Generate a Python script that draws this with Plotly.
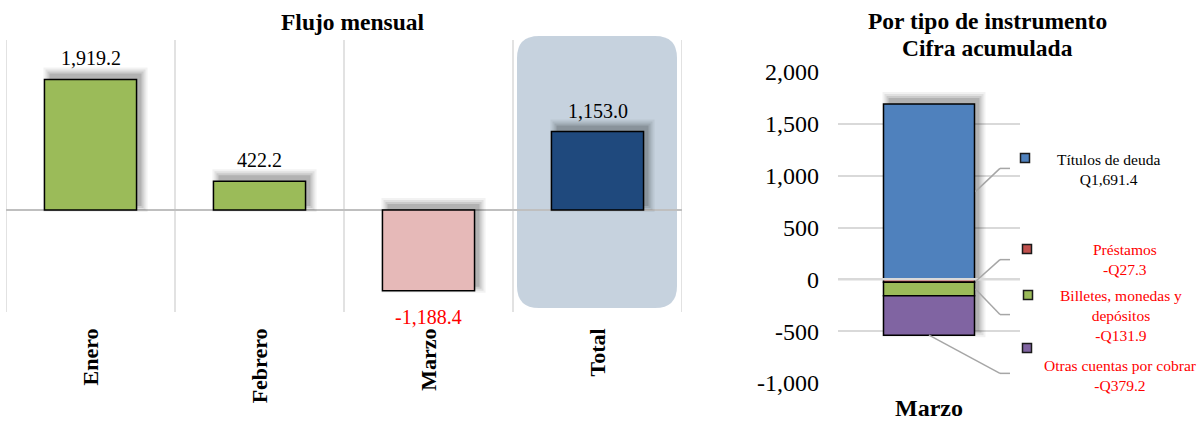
import plotly.graph_objects as go

W, H = 1204, 421
FONT = "Liberation Serif"

# ---------------- data ----------------
months = ["Enero", "Febrero", "Marzo", "Total"]
flujo = [1919.2, 422.2, -1188.4, 1153.0]
flujo_labels = ["1,919.2", "422.2", "-1,188.4", "1,153.0"]
flujo_colors = ["#9bbb59", "#9bbb59", "#e6b9b8", "#1f497d"]
flujo_label_colors = ["black", "black", "red", "black"]

acum_cat = ["Marzo"]
instrumentos = ["Títulos de deuda", "Préstamos", "Billetes, monedas y<br>depósitos",
                "Otras cuentas por cobrar"]
inst_values = [1691.4, -27.3, -131.9, -379.2]
inst_labels = ["Q1,691.4", "-Q27.3", "-Q131.9", "-Q379.2"]
inst_colors = ["#4f81bd", "#c0504d", "#9bbb59", "#8064a2"]
inst_text_colors = ["black", "red", "red", "red"]

y2_tickvals = [-1000, -500, 0, 500, 1000, 1500, 2000]
y2_ticktext = ["-1,000", "-500", "0", "500", "1,000", "1,500", "2,000"]


def pxx(x):
    return x / W


def pxy(y):
    return 1 - y / H


# ---------------- layout geometry ----------------
L_X = (6, 682)
L_Y = (40, 312)      # top, bottom in pixels
L_RANGE = (-1500, 2500)
R_X = (838, 1020)
R_Y = (72, 383)
R_RANGE = (-1000, 2000)
L_BW = 0.545
R_BW = 0.5

l_ypx = (L_Y[1] - L_Y[0]) / (L_RANGE[1] - L_RANGE[0])   # px per unit
l_xpx = (L_X[1] - L_X[0]) / len(months)                # px per category
r_ypx = (R_Y[1] - R_Y[0]) / (R_RANGE[1] - R_RANGE[0])
r_xpx = (R_X[1] - R_X[0]) / len(acum_cat)

fig = go.Figure()
shapes = []
annotations = []

# Total highlight (rounded rect)
x0, x1, y0, y1, r = pxx(517), pxx(677), pxy(308), pxy(36), 22
rx, ry = r / W, r / H
path = (f"M {x0+rx},{y0} L {x1-rx},{y0} Q {x1},{y0} {x1},{y0+ry} "
        f"L {x1},{y1-ry} Q {x1},{y1} {x1-rx},{y1} L {x0+rx},{y1} "
        f"Q {x0},{y1} {x0},{y1-ry} L {x0},{y0+ry} Q {x0},{y0} {x0+rx},{y0} Z")
shapes.append(dict(type="path", path=path, xref="paper", yref="paper",
                   fillcolor="#c6d2de", line=dict(width=0), layer="below"))

# vertical separators on left chart
for i in range(len(months) + 1):
    shapes.append(dict(type="line", xref="x", yref="y domain", x0=i - 0.5, x1=i - 0.5,
                       y0=0, y1=1, line=dict(color="#d9d9d9", width=1.5), layer="below"))


def add_shadow(xref, yref, xc, bw, lo, hi, xpx, ypx):
    dx, dy = 4, 5
    for e, op in [(7, 0.05), (5, 0.07), (3, 0.09), (1, 0.12)]:
        shapes.append(dict(type="rect", xref=xref, yref=yref,
                           x0=xc - bw / 2 + (dx - e + 2) / xpx, x1=xc + bw / 2 + (dx + e) / xpx,
                           y0=lo + (dy - e) / ypx, y1=hi + (dy + e) / ypx,
                           fillcolor=f"rgba(0,0,0,{op})", line=dict(width=0), layer="between"))


# left bars
for i, v in enumerate(flujo):
    add_shadow("x", "y", i, L_BW, min(0, v), max(0, v), l_xpx, l_ypx)

fig.add_trace(go.Bar(x=months, y=flujo, width=L_BW, marker=dict(color=flujo_colors,
                     line=dict(color="black", width=1.5)), xaxis="x", yaxis="y",
                     showlegend=False, hoverinfo="skip"))
for m, v, t, c in zip(months, flujo, flujo_labels, flujo_label_colors):
    annotations.append(dict(x=m, y=v, xref="x", yref="y", text=t, showarrow=False,
                            xanchor="center", yanchor="middle", yshift=21 if v >= 0 else -26,
                            font=dict(family=FONT, size=20, color=c)))

# right stacked bar
pos, neg = 0.0, 0.0
bases = []
for v in inst_values:
    if v >= 0:
        bases.append(pos)
        pos += v
    else:
        bases.append(neg)
        neg += v
add_shadow("x2", "y2", 0, R_BW, neg, pos, r_xpx, r_ypx)

for name, v, b, c in zip(instrumentos, inst_values, bases, inst_colors):
    fig.add_trace(go.Bar(x=acum_cat, y=[v], base=[b], width=R_BW, name=name,
                         marker=dict(color=c, line=dict(color="black", width=1.5)),
                         xaxis="x2", yaxis="y2", showlegend=False, hoverinfo="skip"))

# zero gridline drawn over the stack
shapes.append(dict(type="line", xref="x2 domain", yref="y2", x0=0, x1=1, y0=0, y1=0,
                   line=dict(color="#d9d9d9", width=2.5), layer="above"))

# leader lines (label y positions are layout positions)
leader_end_y = [1070, 190, -340, -907]
leader_start_x = [0.755, 0.76, 0.755, 0.5]
for i, (v, b) in enumerate(zip(inst_values, bases)):
    if i == len(inst_values) - 1:
        ys = b + v
    else:
        ys = b + v / 2
    ye = leader_end_y[i]
    shapes.append(dict(type="line", xref="x2 domain", yref="y2", x0=leader_start_x[i], x1=0.89,
                       y0=ys, y1=ye, line=dict(color="#a6a6a6", width=1.5)))
    shapes.append(dict(type="line", xref="x2 domain", yref="y2", x0=0.89, x1=0.945,
                       y0=ye, y1=ye, line=dict(color="#a6a6a6", width=1.5)))

# legend squares + text
leg_sq = [(1025, 158), (1027, 249), (1028, 295), (1027, 348)]
leg_txt = [(1108, 169), (1125, 259), (1121, 315), (1120, 375)]
for i in range(len(instrumentos)):
    sx, sy = leg_sq[i]
    shapes.append(dict(type="rect", xref="paper", yref="paper",
                       x0=pxx(sx - 4.5), x1=pxx(sx + 4.5), y0=pxy(sy + 4.5), y1=pxy(sy - 4.5),
                       fillcolor=inst_colors[i], line=dict(color="#1a1a1a", width=1.5)))
    tx, ty = leg_txt[i]
    annotations.append(dict(x=pxx(tx), y=pxy(ty), xref="paper", yref="paper",
                            text=f"{instrumentos[i]}<br>{inst_labels[i]}", showarrow=False,
                            align="center", xanchor="center", yanchor="middle",
                            font=dict(family=FONT, size=15.5, color=inst_text_colors[i])))

# titles
annotations.append(dict(x=pxx(352), y=pxy(22), xref="paper", yref="paper",
                        text="<b>Flujo mensual</b>", showarrow=False, xanchor="center",
                        yanchor="middle", font=dict(family=FONT, size=23.5, color="black")))
annotations.append(dict(x=pxx(987), y=pxy(21), xref="paper", yref="paper",
                        text="<b>Por tipo de instrumento</b>", showarrow=False, xanchor="center",
                        yanchor="middle", font=dict(family=FONT, size=23.5, color="black")))
annotations.append(dict(x=pxx(987), y=pxy(48), xref="paper", yref="paper",
                        text="<b>Cifra acumulada</b>", showarrow=False, xanchor="center",
                        yanchor="middle", font=dict(family=FONT, size=23.5, color="black")))

fig.update_layout(
    width=W, height=H, margin=dict(l=0, r=0, t=0, b=0, autoexpand=False),
    paper_bgcolor="white", plot_bgcolor="rgba(0,0,0,0)",
    barmode="overlay", showlegend=False,
    font=dict(family=FONT, color="black"),
    xaxis=dict(domain=[pxx(L_X[0]), pxx(L_X[1])], type="category", automargin=False,
               categoryorder="array", categoryarray=months, range=[-0.5, len(months) - 0.5],
               tickangle=-90, tickfont=dict(family=FONT, size=22, color="black"),
               showgrid=False, showline=False, ticks="", ticklabelstandoff=11,
               tickvals=months, ticktext=[f"<b>{m}</b>" for m in months]),
    yaxis=dict(domain=[pxy(L_Y[1]), pxy(L_Y[0])], range=list(L_RANGE), showgrid=False,
               showticklabels=False, zeroline=True, zerolinecolor="#bfbfbf", zerolinewidth=2,
               ticks="", automargin=False),
    xaxis2=dict(domain=[pxx(R_X[0]), pxx(R_X[1])], type="category", range=[-0.5, 0.5],
                anchor="y2", showgrid=False, showline=False, ticks="", automargin=False,
                tickvals=acum_cat, ticktext=[f"<b>{m}</b>" for m in acum_cat],
                tickfont=dict(family=FONT, size=24, color="black"), ticklabelstandoff=8),
    yaxis2=dict(domain=[pxy(R_Y[1]), pxy(R_Y[0])], range=list(R_RANGE), anchor="x2",
                tickvals=y2_tickvals, ticktext=y2_ticktext, automargin=False,
                tickfont=dict(family=FONT, size=24, color="black"),
                gridcolor="#d9d9d9", gridwidth=2, zeroline=False, ticks="",
                ticklabelstandoff=18),
    shapes=shapes, annotations=annotations,
)

fig.write_html("out.html", config={"displayModeBar": False},
               post_script="document.body.style.margin='0';document.body.style.overflow='hidden';")
